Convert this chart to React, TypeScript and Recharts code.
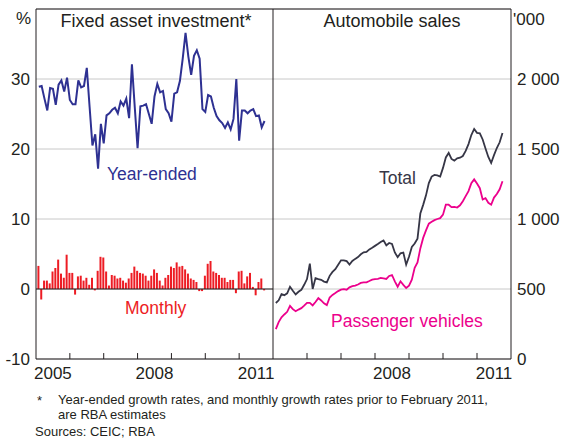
import {
  ComposedChart,
  Line,
  Bar,
  XAxis,
  YAxis,
  CartesianGrid,
  ReferenceLine,
} from "recharts";

const FONT = '"Liberation Sans", Arial, Helvetica, sans-serif';

const COLORS = {
  ink: "#231f20",
  grid: "#c8c8c8",
  navy: "#2e3192", // year-ended FAI
  red: "#ed1c24", // monthly FAI
  total: "#363646",
  passenger: "#ec008c",
};

// monthly observations, Feb 2005 to Oct 2011
const START_YEAR = 2005;
const FIRST_MONTH = 1;

// fixed asset investment, year-ended growth, %
const YEAR_ENDED = [
  28.9, 29.0, 27.2, 25.5, 28.7, 28.6, 26.3, 29.2, 29.8, 28.2,
  30.2, 27.0, 26.4, 26.4, 29.8, 28.8, 29.0, 31.6, 26.0, 20.5,
  22.1, 17.2, 23.6, 20.8, 24.8, 25.1, 25.6, 25.9, 25.1, 26.8,
  26.2, 27.2, 24.4, 32.1, 26.0, 20.1, 26.1, 26.2, 26.4, 25.0,
  23.6, 27.5, 29.3, 28.1, 28.3, 25.7, 25.1, 23.9, 27.9, 28.1,
  29.7, 32.9, 36.6, 33.2, 30.6, 33.3, 34.1, 32.9, 25.7, 25.3,
  27.7, 27.5, 25.9, 24.7, 24.1, 23.7, 23.0, 23.8, 22.8, 24.3,
  30.0, 21.2, 25.5, 25.5, 25.1, 25.5, 25.7, 24.7, 24.8, 23.1, 24.0,
];

// fixed asset investment, monthly growth, %
const MONTHLY = [
  3.3, -1.5, 1.2, 1.2, 0.8, 2.5, 3.0, 4.2, 2.2, 1.6,
  4.9, 2.3, 2.3, -0.8, 1.8, 1.9, 1.2, 1.6, 0.6, 1.6,
  -0.2, 2.6, 4.6, 4.5, 2.5, 0.5, 2.0, 1.9, 1.5, 1.6,
  1.2, 0.9, 1.5, 2.3, 3.2, 2.6, 2.3, 2.2, 1.9, 1.2,
  1.9, 2.8, 2.3, 1.2, 0.5, 1.6, 2.0, 3.2, 3.0, 3.8,
  3.2, 3.3, 2.8, 2.2, 1.5, 1.3, 1.0, -0.3, -0.3, 1.9,
  3.6, 4.0, 2.5, 2.3, 2.0, 1.6, 1.6, 1.0, 1.3, 1.3,
  -0.6, 2.5, 2.6, 0.8, 1.8, 2.3, 0.3, -0.9, 1.0, 1.5, -0.2,
];

// automobile sales, '000
const TOTAL = [
  400, 419, 464, 456, 469, 516, 487, 461, 480, 494,
  530, 571, 681, 500, 578, 571, 566, 553, 547, 594,
  622, 642, 673, 705, 705, 699, 675, 700, 715, 728,
  748, 762, 765, 783, 795, 808, 821, 836, 847, 812,
  829, 822, 761, 727, 755, 760, 674, 730, 800, 825,
  860, 1039, 1101, 1169, 1257, 1303, 1315, 1311, 1303, 1365,
  1440, 1472, 1429, 1417, 1433, 1438, 1450, 1486, 1535, 1600,
  1643, 1615, 1612, 1568, 1504, 1443, 1400, 1456, 1507, 1548, 1614,
];

const PASSENGER = [
  214, 264, 298, 318, 337, 380, 356, 341, 353, 363,
  381, 401, 401, 383, 407, 435, 418, 398, 385, 439,
  458, 471, 485, 495, 499, 495, 512, 520, 524, 532,
  543, 547, 548, 557, 567, 571, 573, 579, 576, 572,
  593, 600, 555, 516, 555, 530, 507, 524, 567, 651,
  690, 790, 865, 919, 967, 980, 992, 1000, 1006, 1031,
  1102, 1102, 1085, 1087, 1082, 1098, 1127, 1163, 1199, 1256,
  1283, 1253, 1220, 1139, 1149, 1116, 1102, 1153, 1178, 1212, 1270,
];

const LEFT_TICKS = [-10, 0, 10, 20, 30];
const RIGHT_TICKS = [0, 500, 1000, 1500, 2000];
const YEAR_MARKS = [2006, 2007, 2008, 2009, 2010, 2011];
const LEFT_YEAR_LABELS = [2005, 2008, 2011];
const RIGHT_YEAR_LABELS = [2008, 2011];

const monthToYear = (i: number) => START_YEAR + (FIRST_MONTH + i) / 12;

const leftData = YEAR_ENDED.map((v, i) => ({
  date: monthToYear(i),
  yearEnded: v,
  monthly: MONTHLY[i],
}));

const rightData = TOTAL.map((v, i) => ({
  date: monthToYear(i),
  total: v,
  passenger: PASSENGER[i],
}));

const tickStyle = { fill: COLORS.ink, fontSize: 17, fontFamily: FONT };

const thousands = (v: number) =>
  v >= 1000 ? `${Math.floor(v / 1000)} ${String(v % 1000).padStart(3, "0")}` : String(v);

function yearAxis(labels: number[]) {
  return (
    <XAxis
      dataKey="date"
      type="number"
      domain={[2005, 2012]}
      ticks={labels.map((y) => y + 0.5)}
      tickFormatter={(v: number) => String(Math.floor(v))}
      interval={0}
      tickLine={false}
      axisLine={{ stroke: COLORS.ink }}
      height={26}
      tick={tickStyle}
      allowDataOverflow
    />
  );
}

export default function App() {
  return (
    <div
      style={{
        position: "absolute",
        left: 0,
        top: 0,
        width: 561,
        height: 438,
        background: "#fff",
        fontFamily: FONT,
      }}
    >
      <div style={{ position: "absolute", left: 0, top: 0 }}>
        <ComposedChart
          width={280}
          height={385}
          data={leftData}
          margin={{ top: 9, right: 7, bottom: 0, left: 0 }}
        >
          <CartesianGrid vertical={false} stroke={COLORS.grid} />
          {yearAxis(LEFT_YEAR_LABELS)}
          <YAxis
            domain={[-10, 40]}
            ticks={LEFT_TICKS}
            width={36}
            tickLine={false}
            tickSize={4}
            tickMargin={2}
            axisLine={{ stroke: COLORS.ink }}
            tick={tickStyle}
            allowDataOverflow
          />
          <ReferenceLine y={40} stroke={COLORS.ink} />
          <ReferenceLine y={0} stroke={COLORS.ink} />
          {YEAR_MARKS.map((yr) => (
            <ReferenceLine
              key={yr}
              segment={[
                { x: yr, y: -10 },
                { x: yr, y: -9.15 },
              ]}
              stroke={COLORS.ink}
            />
          ))}
          <Bar dataKey="monthly" fill={COLORS.red} barSize={2} isAnimationActive={false} />
          <Line
            dataKey="yearEnded"
            stroke={COLORS.navy}
            strokeWidth={2}
            dot={false}
            isAnimationActive={false}
          />
        </ComposedChart>
      </div>

      <div style={{ position: "absolute", left: 266, top: 0 }}>
        <ComposedChart
          width={295}
          height={385}
          data={rightData}
          margin={{ top: 9, right: 0, bottom: 0, left: 7 }}
        >
          <CartesianGrid vertical={false} stroke={COLORS.grid} />
          {yearAxis(RIGHT_YEAR_LABELS)}
          <YAxis
            orientation="right"
            domain={[0, 2500]}
            ticks={RIGHT_TICKS}
            width={50}
            tickLine={false}
            tickSize={4}
            tickMargin={2}
            tickFormatter={thousands}
            axisLine={{ stroke: COLORS.ink }}
            tick={tickStyle}
            allowDataOverflow
          />
          <ReferenceLine y={2500} stroke={COLORS.ink} />
          <ReferenceLine x={2005} stroke={COLORS.ink} />
          {YEAR_MARKS.map((yr) => (
            <ReferenceLine
              key={yr}
              segment={[
                { x: yr, y: 0 },
                { x: yr, y: 43 },
              ]}
              stroke={COLORS.ink}
            />
          ))}
          <Line
            dataKey="total"
            stroke={COLORS.total}
            strokeWidth={1.8}
            dot={false}
            isAnimationActive={false}
          />
          <Line
            dataKey="passenger"
            stroke={COLORS.passenger}
            strokeWidth={1.8}
            dot={false}
            isAnimationActive={false}
          />
        </ComposedChart>
      </div>

      <svg
        width={561}
        height={438}
        style={{ position: "absolute", left: 0, top: 0, pointerEvents: "none" }}
        fontFamily={FONT}
      >
        <text x={16} y={24} fontSize={17} fill={COLORS.ink}>%</text>
        <text x={513} y={25} fontSize={17} fill={COLORS.ink}>'000</text>
        <text x={156} y={27} fontSize={18} fill={COLORS.ink} textAnchor="middle">
          Fixed asset investment*
        </text>
        <text x={392} y={27} fontSize={18} fill={COLORS.ink} textAnchor="middle">
          Automobile sales
        </text>
        <text x={107} y={180} fontSize={17.5} fill={COLORS.navy}>Year-ended</text>
        <text x={125} y={314} fontSize={17.5} fill={COLORS.red}>Monthly</text>
        <text x={379} y={184} fontSize={17.5} fill={COLORS.total}>Total</text>
        <text x={331} y={327} fontSize={17.5} fill={COLORS.passenger}>Passenger vehicles</text>
        <text x={37} y={405} fontSize={13} fill={COLORS.ink}>*</text>
        <text x={58} y={404} fontSize={13} fill={COLORS.ink}>
          Year-ended growth rates, and monthly growth rates prior to February 2011,
        </text>
        <text x={58} y={419} fontSize={13} fill={COLORS.ink}>are RBA estimates</text>
        <text x={35} y={436} fontSize={13} fill={COLORS.ink}>Sources: CEIC; RBA</text>
      </svg>
    </div>
  );
}
